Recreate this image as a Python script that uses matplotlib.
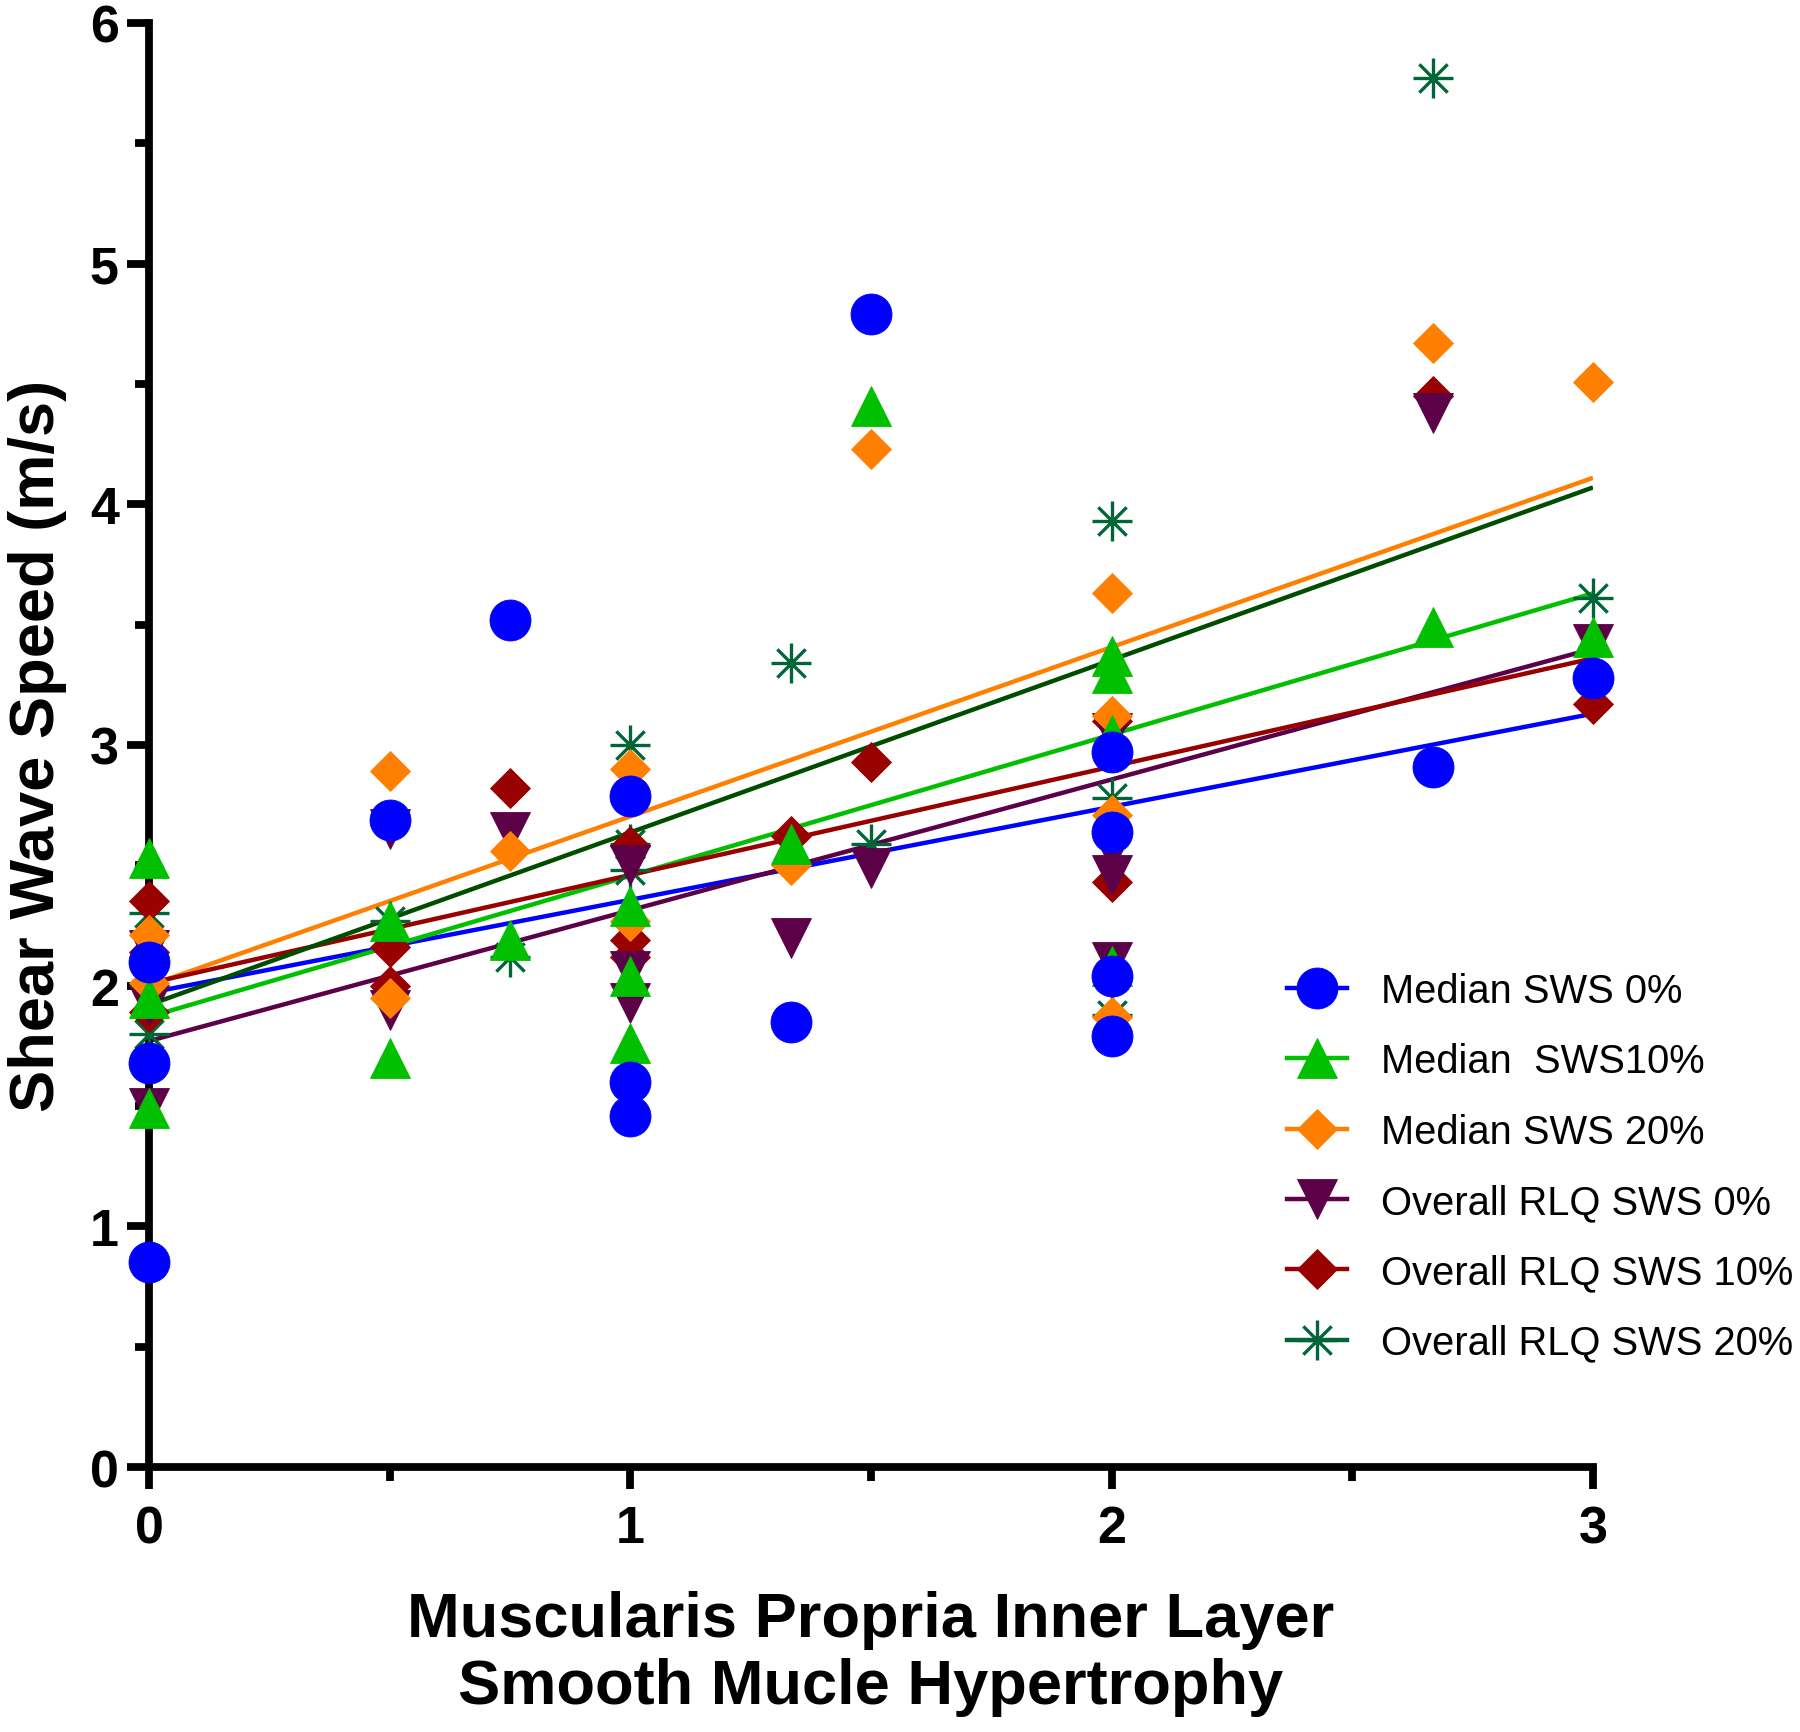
import numpy as np
import matplotlib
matplotlib.use("Agg")
import matplotlib.pyplot as plt
from matplotlib.lines import Line2D
from matplotlib.path import Path

plt.rcParams['font.family'] = ['Liberation Sans', 'DejaVu Sans']

# hypertrophy grade (x) and shear wave speed (m/s) for each series
med0_x = [0, 0, 0, 0.5, 0.75, 1, 1, 1, 1.333, 1.5, 2, 2, 2, 2, 2.667, 3]
med0_y = [2.10, 1.68, 0.85, 2.69, 3.52, 2.79, 1.60, 1.46, 1.85, 4.79, 2.97, 2.64, 2.04, 1.79, 2.91, 3.28]

med10_x = [0, 0, 0, 0.5, 0.5, 0.75, 1, 1, 1, 1.333, 1.5, 2, 2, 2, 2, 2.667, 3]
med10_y = [2.53, 1.95, 1.49, 2.27, 1.70, 2.19, 2.33, 2.04, 1.76, 2.59, 4.41, 3.37, 3.30, 3.04, 2.08, 3.49, 3.45]

med20_x = [0, 0, 0.5, 0.5, 0.75, 1, 1, 1.333, 1.5, 2, 2, 2, 2, 2.667, 3]
med20_y = [2.21, 2.01, 2.89, 1.95, 2.56, 2.90, 2.27, 2.50, 4.23, 3.63, 3.12, 2.71, 1.87, 4.67, 4.51]

rlq0_x = [0, 0, 0, 0.5, 0.5, 0.75, 1, 1, 1, 1.333, 1.5, 2, 2, 2, 2, 2.667, 3]
rlq0_y = [2.15, 1.92, 1.49, 2.65, 1.90, 2.64, 2.50, 2.06, 1.93, 2.20, 2.49, 3.05, 2.56, 2.46, 2.10, 4.38, 3.42]

rlq10_x = [0, 0, 0, 0.5, 0.5, 0.75, 1, 1, 1, 1.333, 1.5, 2, 2, 2, 2, 2.667, 3]
rlq10_y = [2.35, 2.14, 1.89, 2.16, 2.00, 2.82, 2.58, 2.19, 2.12, 2.62, 2.93, 3.10, 2.63, 2.43, 2.03, 4.45, 3.17]

rlq20_x = [0, 0, 0.5, 0.75, 1, 1, 1, 1.333, 1.5, 2, 2, 2, 2.667, 3]
rlq20_y = [2.30, 1.80, 2.27, 2.12, 3.00, 2.59, 2.48, 3.34, 2.59, 3.93, 2.78, 1.88, 5.77, 3.61]

# linear fit lines as drawn (value at x=0 and at x=3)
fit_x = [0, 3]
fit_med0 = [1.97, 3.13]
fit_med10 = [1.87, 3.63]
fit_med20 = [2.00, 4.11]
fit_rlq0 = [1.77, 3.40]
fit_rlq10 = [2.01, 3.36]
fit_rlq20 = [1.92, 4.07]

labels = ["Median SWS 0%", "Median  SWS10%", "Median SWS 20%",
          "Overall RLQ SWS 0%", "Overall RLQ SWS 10%", "Overall RLQ SWS 20%"]

# eight-spoke asterisk marker
d = np.sqrt(0.5)
star_path = Path([(0, -1), (0, 1), (-1, 0), (1, 0), (-d, -d), (d, d), (-d, d), (d, -d)],
                 [Path.MOVETO, Path.LINETO] * 4)

series = [
    (med0_x, med0_y, fit_med0, '#0000FF', '#0000FF', 'o', 29.5),
    (med10_x, med10_y, fit_med10, '#00C000', '#00C000', '^', 29.5),
    (med20_x, med20_y, fit_med20, '#FF8000', '#FF8000', 'D', 20.5),
    (rlq0_x, rlq0_y, fit_rlq0, '#5C0048', '#5C0048', 'v', 29.5),
    (rlq10_x, rlq10_y, fit_rlq10, '#990000', '#990000', 'D', 20.5),
    (rlq20_x, rlq20_y, fit_rlq20, '#006638', '#004D00', star_path, 28.8),
]

fig = plt.figure(figsize=(18, 17.33), dpi=100)
ax = fig.add_axes([0.0828, 0.1529, 0.8022, 0.8333])

handles = []
n = len(series)
for i, (xs, ys, fit, col, lcol, mk, ms) in enumerate(series):
    ax.plot(fit_x, fit, color=lcol, lw=3.2, zorder=2 + i * 0.01, solid_capstyle='butt')
    if mk is star_path:
        ax.plot(xs, ys, ls='none', marker=mk, ms=ms, mfc='none', mec=col, mew=2.4,
                zorder=10 + (n - i), clip_on=False)
        h = Line2D([], [], color=col, lw=3.2, marker=mk, ms=ms, mfc='none', mec=col, mew=2.4)
    else:
        ax.plot(xs, ys, ls='none', marker=mk, ms=ms, mfc=col, mec=col, mew=0.6,
                zorder=10 + (n - i), clip_on=False)
        h = Line2D([], [], color=col, lw=3.2, marker=mk, ms=ms, mfc=col, mec=col, mew=0.6)
    handles.append(h)

ax.set_xlim(0, 3)
ax.set_ylim(0, 6)
ax.set_xticks([0, 1, 2, 3])
ax.set_xticks([0.5, 1.5, 2.5], minor=True)
ax.set_yticks(range(7))
ax.set_yticks(np.arange(0.5, 6, 1.0), minor=True)

for s in ['top', 'right']:
    ax.spines[s].set_visible(False)
for s in ['left', 'bottom']:
    ax.spines[s].set_linewidth(5.6)
    ax.spines[s].set_capstyle('projecting')

ax.tick_params(which='major', length=15.8, width=5.6, labelsize=37.5, pad=6)
ax.tick_params(which='minor', length=10, width=5.6)
ax.tick_params(axis='x', which='major', pad=11)
for lab in ax.get_xticklabels() + ax.get_yticklabels():
    lab.set_fontweight('bold')

ax.set_ylabel("Shear Wave Speed (m/s)", fontsize=45.5, fontweight='bold')
ax.yaxis.set_label_coords(-0.057, 0.5)
ax.set_xlabel("Muscularis Propria Inner Layer\nSmooth Mucle Hypertrophy",
              fontsize=45.5, fontweight='bold', linespacing=1.18)
ax.xaxis.set_label_coords(0.5, -0.085)

leg = ax.legend(handles, labels, loc='upper left', bbox_to_anchor=(0.715, 0.4385),
                bbox_transform=fig.transFigure, frameon=False, fontsize=28.7,
                handlelength=1.5, handletextpad=0.85, labelspacing=0.81,
                borderpad=0, borderaxespad=0)

fig.savefig("out.png", dpi=100)
